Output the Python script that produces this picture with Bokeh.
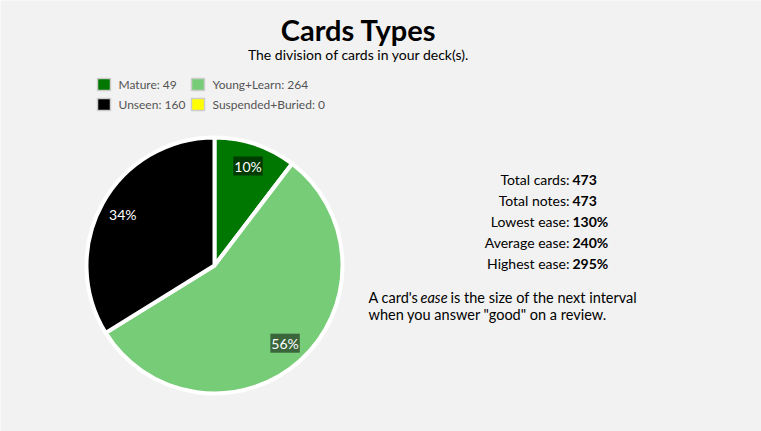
import math
from bokeh.plotting import figure
from bokeh.models import ColumnDataSource
from bokeh.core.properties import value
from bokeh.embed import file_html
from bokeh.resources import INLINE

# ---- data ----
categories = ["Mature", "Young+Learn", "Unseen", "Suspended+Buried"]
counts = [49, 264, 160, 0]
colors = ["#007700", "#77cc77", "#000000", "#ffff00"]
stat_labels = ["Total cards:", "Total notes:", "Lowest ease:", "Average ease:", "Highest ease:"]
stat_values = ["473", "473", "130%", "240%", "295%"]
title_text = "Cards Types"
subtitle_text = "The division of cards in your deck(s)."

W, H = 761, 431
FONT = "Lato"
p = figure(width=W, height=H, x_range=(0, W), y_range=(H, 0),
           output_backend="svg", toolbar_location=None, min_border=0)
p.axis.visible = False
p.grid.visible = False
p.outline_line_color = None
p.background_fill_color = "#f2f2f2"
p.border_fill_color = "#f2f2f2"

# ---- pie ----
cx, cy, R = 214, 265, 128
total = sum(counts)
starts, ends, cum = [], [], 0.0
for c in counts:
    a0 = cum / total
    cum += c
    a1 = cum / total
    # screen angles (y down), clockwise from 12 o'clock
    starts.append(-math.pi / 2 + 2 * math.pi * a0)
    ends.append(-math.pi / 2 + 2 * math.pi * a1)
keep = [i for i, c in enumerate(counts) if c > 0]
src = ColumnDataSource(dict(cat=[categories[i] for i in keep], n=[counts[i] for i in keep],
                            color=[colors[i] for i in keep], s=[-starts[i] for i in keep],
                            e=[-ends[i] for i in keep]))
p.wedge(x=cx, y=cy, radius=R, start_angle="s", end_angle="e", direction="clock",
        fill_color="color", line_color="white", line_width=4, source=src)

# slice labels
lx, ly, lt = [], [], []
for i in keep:
    m = (starts[i] + ends[i]) / 2
    lx.append(cx + 0.82 * R * math.cos(m))
    ly.append(cy + 0.82 * R * math.sin(m))
    lt.append(f"{round(100 * counts[i] / total)}%")
p.text(x=lx, y=ly, text=lt, text_color="white", text_font=value(FONT),
       text_font_size="14px", text_align="center", text_baseline="middle",
       background_fill_color="black", background_fill_alpha=0.5, padding=1)

# ---- legend ----
leg_x = [97, 191, 97, 191]
leg_y = [84, 84, 104, 104]
p.rect(x=[x + 6.5 for x in leg_x], y=leg_y, width=13, height=12, fill_color=colors,
       line_color="#cccccc", line_width=1.5)
p.text(x=[x + 21 for x in leg_x], y=leg_y,
       text=[f"{c}: {n}" for c, n in zip(categories, counts)],
       text_color="#545454", text_font=value(FONT), text_font_size="12px",
       text_baseline="middle")

# ---- titles ----
p.text(x=[358], y=[29], text=[title_text], text_font=value(FONT), text_font_style="bold",
       text_font_size="29px", text_align="center", text_baseline="middle", text_color="black")
p.text(x=[358], y=[54], text=[subtitle_text], text_font=value(FONT),
       text_font_size="14px", text_align="center", text_baseline="middle", text_color="black")

# ---- stats ----
sy = [179 + 21 * i for i in range(len(stat_labels))]
p.text(x=[569] * len(sy), y=sy, text=stat_labels, text_font=value(FONT), text_font_size="14px",
       text_align="right", text_baseline="middle", text_color="black")
p.text(x=[572] * len(sy), y=sy, text=stat_values, text_font=value(FONT), text_font_size="14px",
       text_font_style="bold", text_align="left", text_baseline="middle", text_color="black")

# ---- note ----
p.text(x=[368], y=[297], text=["A card's"], text_font=value(FONT), text_font_size="14.5px",
       text_baseline="middle", text_color="black")
p.text(x=[420], y=[297], text=["ease"], text_font=value(FONT), text_font_size="14.5px",
       text_font_style="italic", text_baseline="middle", text_color="black")
p.text(x=[450], y=[297], text=["is the size of the next interval"], text_font=value(FONT),
       text_font_size="14.5px", text_baseline="middle", text_color="black")
p.text(x=[368], y=[314], text=['when you answer "good" on a review.'], text_font=value(FONT),
       text_font_size="14.5px", text_baseline="middle", text_color="black")

open("out.html", "w").write(file_html(p, INLINE))
